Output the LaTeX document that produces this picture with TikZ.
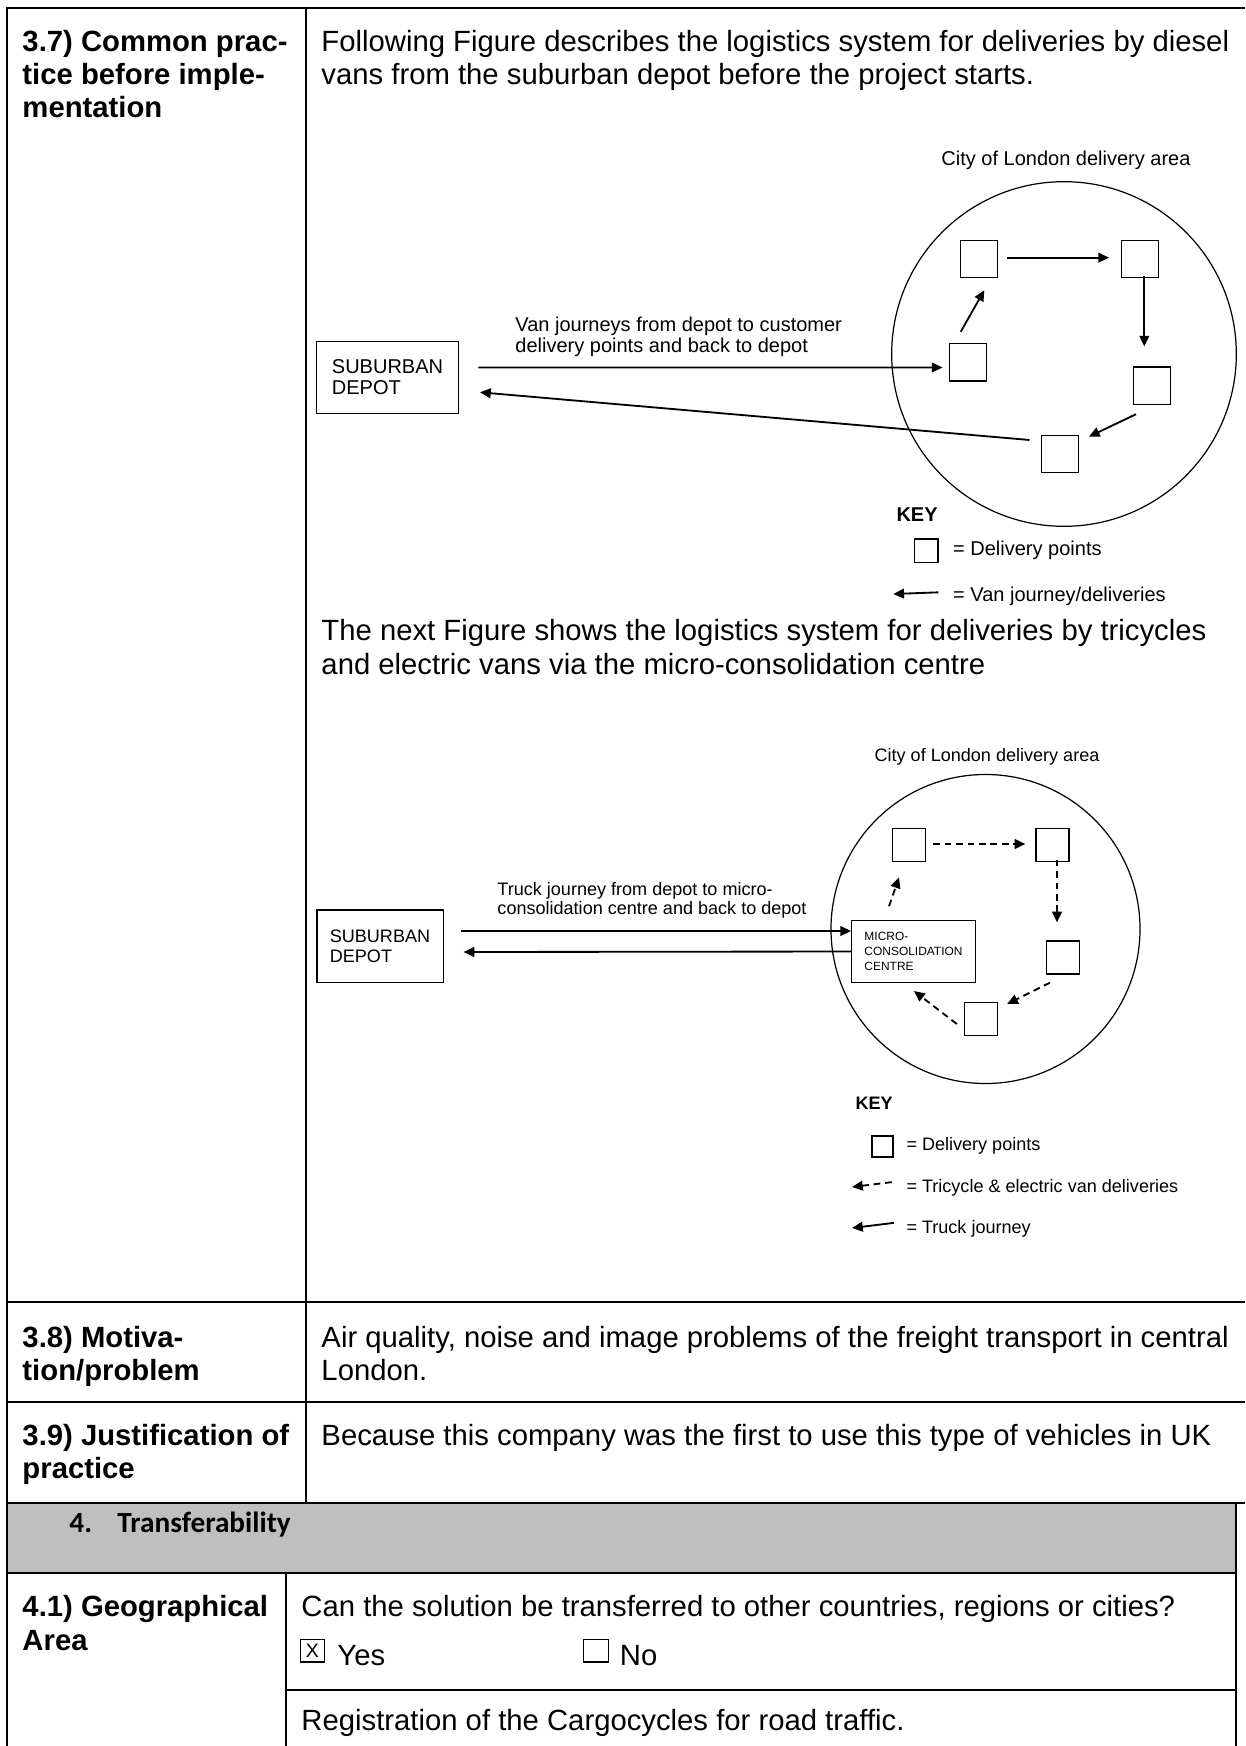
\documentclass[tikz,border=0pt]{standalone}
\usepackage{fontspec}
\setmainfont{Liberation Sans}
\newfontfamily\calibri{Carlito}
\usepackage{xcolor}
\usetikzlibrary{arrows.meta,calc}
\definecolor{greyband}{RGB}{191,191,191}

\begin{document}
\begin{tikzpicture}[x=0.41pt, y=-0.41pt,
  rule/.style={line width=0.85pt},
  body/.style={anchor=base west, inner sep=0pt, font=\fontsize{12}{14}\selectfont},
  head/.style={body, font=\fontsize{12}{14}\selectfont\bfseries},
  small/.style={inner sep=0pt, align=left, font=\fontsize{8.2}{8.6}\selectfont},
  tiny/.style={inner sep=0pt, align=left, font=\fontsize{7.4}{7.9}\selectfont},
  drop/.style={draw, line width=0.55pt, minimum size=15.2pt, inner sep=0pt},
  dropsm/.style={drop, minimum size=13.5pt},
  depotbox/.style={draw, line width=0.55pt, inner sep=0pt, align=left},
  zone/.style={draw, circle, line width=0.5pt, inner sep=0pt},
  van/.style={line width=0.75pt, -{Triangle[length=4.4pt,width=4pt]}},
  vanback/.style={line width=0.75pt, {Triangle[length=4.4pt,width=4pt]}-},
  trike/.style={van, dash pattern=on 2.8pt off 1.9pt},
  trikeback/.style={vanback, dash pattern=on 2.8pt off 1.9pt},
  tickbox/.style={draw, line width=0.45pt, minimum width=10.2pt, minimum height=9.4pt, inner sep=0pt, font=\fontsize{8}{8}\selectfont}]
\useasboundingbox (0,0) rectangle (1245,1746);

\fill[greyband] (7,1503) rectangle (1236,1573);
\draw[rule] (1245,8) -- (7,8) -- (7,1746);
\draw[rule] (306,8) -- (306,1503);
\draw[rule] (7,1302) -- (1245,1302);
\draw[rule] (7,1402) -- (1245,1402);
\draw[rule] (7,1503) -- (1245,1503);
\draw[rule] (7,1573) -- (1236,1573);
\draw[rule] (1236,1503) -- (1236,1746);
\draw[rule] (286,1573) -- (286,1746);
\draw[rule] (286,1690) -- (1236,1690);

\node[head] (h37a) at (22,52) {3.7) Common prac-};
\node[head] (h37b) at (22,85) {tice before imple-};
\node[head] (h37c) at (22,118) {mentation};
\node[body] (t37a) at (321,52) {Following Figure describes the logistics system for deliveries by diesel};
\node[body] (t37b) at (321,85) {vans from the suburban depot before the project starts.};

\node[small, anchor=base] (area1) at (1066,165.5) {City of London delivery area};
\node[zone, minimum size=141.3pt] (zone1) at (1064,354) {};
\node[drop] (pA1) at (979,259) {};
\node[drop] (pB1) at (1140,259) {};
\node[drop] (pC1) at (1151.7,385.7) {};
\node[drop] (pD1) at (1059.7,454) {};
\node[drop] (pE1) at (967.7,362.3) {};
\node[depotbox, small, minimum width=58.1pt, minimum height=29.4pt] (depot1) at (387.5,377.5) {SUBURBAN\\DEPOT};
\node[small, anchor=west] (vanlbl) at (515,337) {Van journeys from depot to customer\\delivery points and back to depot};
\draw[van] ([shift={(19.4,-10)}]depot1.east) -- ([shift={(-6,5.2)}]pE1.west);
\draw[van] ([shift={(-7,-11.3)}]pE1.north) -- ([shift={(5.3,12)}]pA1.south);
\draw[van] ([shift={(8.3,-1.3)}]pA1.east) -- ([shift={(-11.7,-1.3)}]pB1.west);
\draw[van] ([shift={(4.3,-2.3)}]pB1.south) -- ([shift={(-7.4,-20)}]pC1.north);
\draw[van] ([shift={(-15.7,9.3)}]pC1.south) -- ([shift={(10,-17.3)}]pD1.east);
\draw[van] ([shift={(-11,-14)}]pD1.west) -- ([shift={(21,14.8)}]depot1.east);

\node[small, anchor=base west, font=\fontsize{8.2}{9.5}\selectfont\bfseries] (key1) at (896,521) {KEY};
\node[drop, minimum size=9.6pt] (keypt1) at (926.3,550.8) {};
\node[small, anchor=base west] (keypttxt1) at (952.7,555.5) {= Delivery points};
\node[small, anchor=base west] (keyvantxt1) at (952.7,601) {= Van journey/deliveries};
\coordinate (keyvan1) at (893.3,594);
\draw[vanback] (keyvan1) -- ([shift={(-14.4,-3.5)}]keyvantxt1.west);

\node[body] (t37c) at (321,640) {The next Figure shows the logistics system for deliveries by tricycles};
\node[body] (t37d) at (321,674) {and electric vans via the micro-consolidation centre};

\node[tiny, anchor=base] (area2) at (987,761.5) {City of London delivery area};
\node[zone, minimum size=126.7pt] (zone2) at (985.5,929) {};
\node[dropsm] (pA2) at (909,845) {};
\node[dropsm] (pB2) at (1052.5,845) {};
\node[dropsm] (pC2) at (1063,957.5) {};
\node[dropsm] (pD2) at (981,1019) {};
\node[depotbox, font=\fontsize{4.9}{6.1}\selectfont, minimum width=50.7pt, minimum height=25.3pt, fill=white] (micro) at (913.5,951.5) {MICRO-\\CONSOLIDATION\\CENTRE};
\node[depotbox, tiny, minimum width=51.8pt, minimum height=29.8pt] (depot2) at (380,946.4) {SUBURBAN\\DEPOT};
\node[tiny, anchor=west] (trucklbl) at (497,900) {Truck journey from depot to micro-\\consolidation centre and back to depot};
\draw[van] ([shift={(17,-15.4)}]depot2.east) -- ([shift={(0,-20.5)}]micro.west);
\draw[van] (micro.west) -- ([shift={(19.7,5.6)}]depot2.east);
\draw[trike] ([shift={(-24.5,-13.7)}]micro.north) -- ([shift={(-10,15.2)}]pA2.south);
\draw[trike] ([shift={(7,-1)}]pA2.east) -- ([shift={(-10,-1)}]pB2.west);
\draw[trike] ([shift={(4.5,-2.5)}]pB2.south) -- ([shift={(-6,-18)}]pC2.north);
\draw[trike] ([shift={(-13,8)}]pC2.south) -- ([shift={(9,-15)}]pD2.east);
\draw[trike] ([shift={(-7,5)}]pD2.west) -- ([shift={(0.5,8)}]micro.south);

\node[tiny, anchor=base west, font=\fontsize{7.4}{8.2}\selectfont\bfseries] (key2) at (855,1109) {KEY};
\node[drop, minimum size=8.6pt] (keypt2) at (882.5,1146.5) {};
\node[tiny, anchor=base west] (keypttxt2) at (906,1150.5) {= Delivery points};
\node[tiny, anchor=base west] (keytriketxt2) at (906,1192.5) {= Tricycle \& electric van deliveries};
\node[tiny, anchor=base west] (keytrucktxt2) at (906,1233.5) {= Truck journey};
\coordinate (keytrike2) at (852,1187);
\coordinate (keytruck2) at (852,1228);
\draw[trikeback] (keytrike2) -- ([shift={(-12,-6)}]keytriketxt2.west);
\draw[vanback] (keytruck2) -- ([shift={(-12,-6)}]keytrucktxt2.west);

\node[head] (h38a) at (22,1347) {3.8) Motiva-};
\node[head] (h38b) at (22,1380) {tion/problem};
\node[body] (t38a) at (321,1347) {Air quality, noise and image problems of the freight transport in central};
\node[body] (t38b) at (321,1380) {London.};

\node[head] (h39a) at (22,1445) {3.9) Justification of};
\node[head] (h39b) at (22,1478) {practice};
\node[body] (t39) at (321,1445) {Because this company was the first to use this type of vehicles in UK};

\node[body, font=\calibri\bfseries\fontsize{12}{14}\selectfont] (sec4num) at (69,1532) {4.};
\node[body, font=\calibri\bfseries\fontsize{12}{14}\selectfont] (sec4) at (117,1532) {Transferability};

\node[head] (h41a) at (22,1616) {4.1) Geographical};
\node[head] (h41b) at (22,1650) {Area};
\node[body] (t41q) at (301,1616) {Can the solution be transferred to other countries, regions or cities?};
\node[tickbox] (yesbox) at (312.5,1650.5) {X};
\node[body] (yes) at (337,1665) {Yes};
\node[tickbox] (nobox) at (596,1650.5) {};
\node[body] (no) at (619.5,1665) {No};
\node[body] (t41r) at (301,1730) {Registration of the Cargocycles for road traffic.};
\end{tikzpicture}
\end{document}
